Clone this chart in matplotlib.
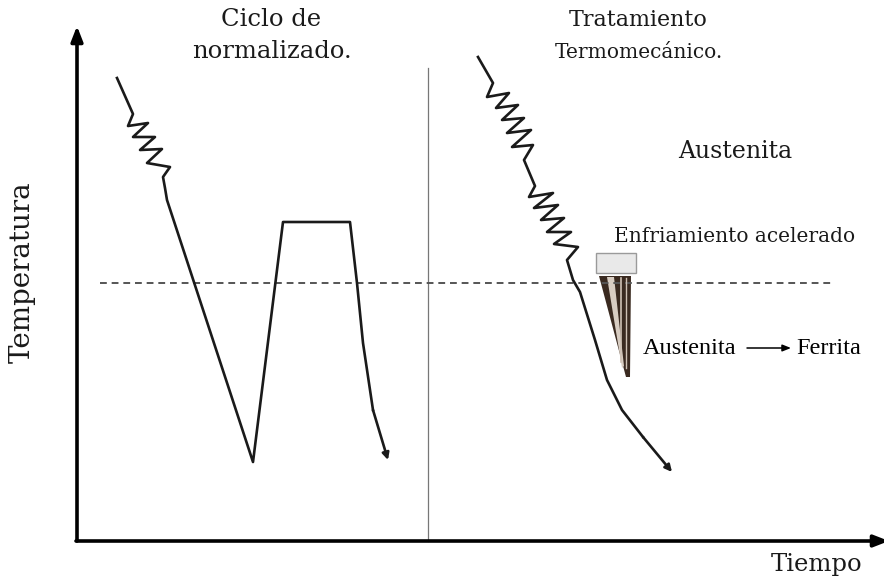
import matplotlib
matplotlib.use("Agg")
from matplotlib import pyplot as plt
from matplotlib.patches import Polygon, Rectangle

# curve of the normalising cycle (left half), pixel-like units, y down
norm_x = [117, 133, 128, 148, 133, 155, 140, 162, 147, 170, 163, 165, 167, 253, 283, 350, 357, 363, 373]
norm_y = [78, 114, 126, 123, 137, 137, 150, 149, 163, 167, 177, 188, 200, 462, 222, 222, 283, 343, 410]
norm_end = (388, 460)

# curve of the thermomechanical treatment (right half)
thermo_x = [478, 493, 487, 509, 496, 518, 502, 524, 507, 531, 512, 533, 524, 535, 529, 553, 534, 558,
            541, 564, 547, 571, 554, 578, 567, 573, 580, 595, 607, 622, 643]
thermo_y = [57, 83, 97, 93, 108, 105, 120, 118, 133, 130, 147, 145, 160, 186, 197, 193, 208, 205,
            220, 218, 232, 232, 244, 247, 260, 280, 292, 340, 380, 410, 437]
thermo_end = (672, 472)

temp_line = 283          # dashed critical temperature
divider_x = 428

titles = ["Ciclo de", "normalizado.", "Tratamiento", "Termomecánico."]
xlabel = "Tiempo"
ylabel = "Temperatura"

fig = plt.figure(figsize=(8.84, 5.82), dpi=100)
ax = fig.add_axes([0, 0, 1, 1])
ax.set_xlim(0, 884)
ax.set_ylim(582, 0)
ax.axis('off')

ink = '#1a1a1a'
serif = 'DejaVu Serif'

# axes with arrows
ax.annotate('', xy=(77, 26), xytext=(77, 541), annotation_clip=False,
            arrowprops=dict(arrowstyle='-|>,head_width=0.35,head_length=0.9', lw=2.6,
                            color='black', shrinkA=0, shrinkB=0))
ax.annotate('', xy=(889, 541), xytext=(76, 541), annotation_clip=False,
            arrowprops=dict(arrowstyle='-|>,head_width=0.35,head_length=0.9', lw=2.6,
                            color='black', shrinkA=0, shrinkB=0))

# divider and dashed line
ax.plot([divider_x, divider_x], [68, 541], color='#777777', lw=0.9)
ax.plot([100, 832], [temp_line, temp_line], color='#555555', lw=1.4, linestyle=(0, (3.5, 2.5)))

# curves
ax.plot(norm_x, norm_y, color=ink, lw=1.9, solid_joinstyle='round')
ax.annotate('', xy=norm_end, xytext=(norm_x[-1], norm_y[-1]),
            arrowprops=dict(arrowstyle='-|>,head_width=0.2,head_length=0.4', lw=1.9, color=ink,
                            shrinkA=0, shrinkB=0))
ax.plot(thermo_x, thermo_y, color=ink, lw=1.9, solid_joinstyle='round')
ax.annotate('', xy=thermo_end, xytext=(thermo_x[-1], thermo_y[-1]),
            arrowprops=dict(arrowstyle='-|>,head_width=0.2,head_length=0.4', lw=1.9, color=ink,
                            shrinkA=0, shrinkB=0))

# accelerated cooling box and ferrite wedges
ax.add_patch(Rectangle((596, 253), 40, 20, facecolor='#e9e9e9', edgecolor='#9a9a9a', lw=1))
ax.add_patch(Polygon([(599, 276), (631, 276), (630, 377), (626, 377)], closed=True,
                     facecolor='#3a2a20', edgecolor='none'))
ax.add_patch(Polygon([(607, 277), (614, 277), (624, 366), (622, 368)], closed=True,
                     facecolor='#d8cdc2', edgecolor='none'))
ax.plot([621, 621], [278, 362], color='#cfc2b5', lw=1.2)
ax.plot([626, 626], [278, 368], color='#cfc2b5', lw=1.0)

# texts
ax.text(271, 19, titles[0], ha='center', va='center', fontsize=17.5, family=serif, color=ink)
ax.text(272, 52, titles[1], ha='center', va='center', fontsize=17.5, family=serif, color=ink)
ax.text(638, 20, titles[2], ha='center', va='center', fontsize=16, family=serif, color=ink)
ax.text(639, 53, titles[3], ha='center', va='center', fontsize=14.5, family=serif, color=ink)
ax.text(735, 152, 'Austenita', ha='center', va='center', fontsize=17, family=serif, color=ink)
ax.text(735, 236, 'Enfriamiento acelerado', ha='center', va='center', fontsize=14.5, family=serif, color=ink)
ax.text(22, 272, ylabel, ha='center', va='center', rotation=90, fontsize=20, family=serif, color=ink)
ax.text(817, 565, xlabel, ha='center', va='center', fontsize=17.5, family=serif, color=ink)

ax.text(690, 348, 'Austenita', ha='center', va='center', fontsize=17.5, family='Liberation Serif', color='black')
ax.text(829, 348, 'Ferrita', ha='center', va='center', fontsize=17.5, family='Liberation Serif', color='black')
ax.annotate('', xy=(791, 348), xytext=(747, 348),
            arrowprops=dict(arrowstyle='-|>,head_width=0.2,head_length=0.5', lw=1.1, color='black',
                            shrinkA=0, shrinkB=0))

fig.savefig('out.png', dpi=100)
